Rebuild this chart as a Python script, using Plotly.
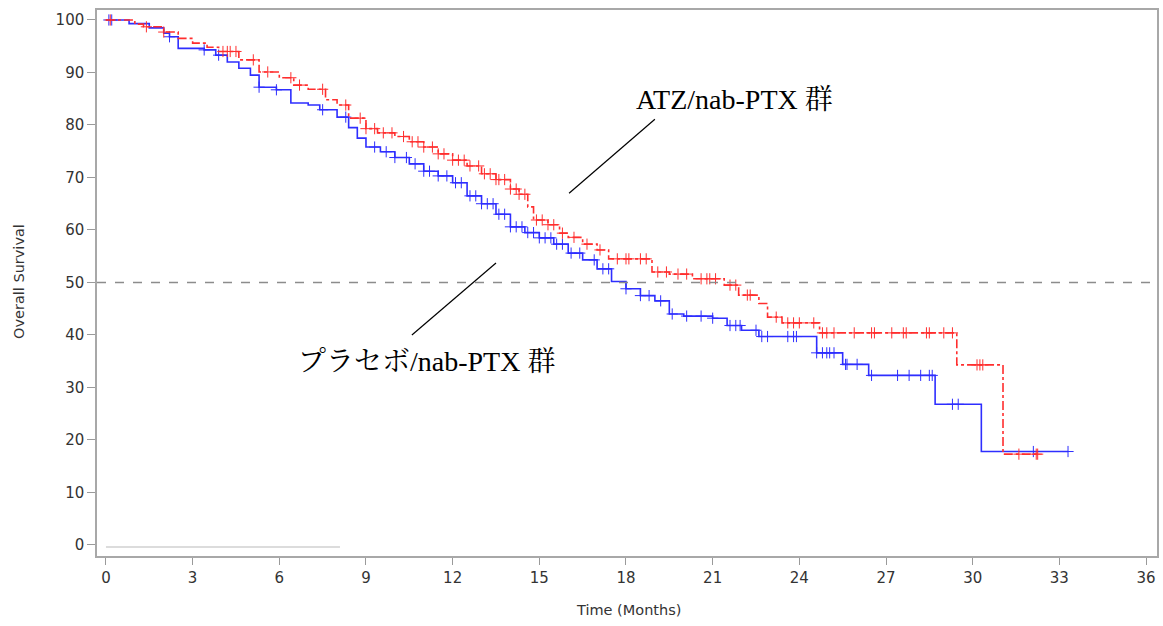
import numpy as np
import plotly.graph_objects as go

# ---- Data ----
pbo_time = [0, 0.8, 1.5, 2.0, 2.2, 2.5, 3.4, 3.8, 4.2, 4.6, 5.0, 5.3, 5.9, 6.4, 7.0, 7.4,
            8.0, 8.4, 8.7, 9.0, 9.5, 10.0, 10.5, 11.0, 11.5, 12.0, 12.5, 13.0, 13.5, 14.0,
            14.5, 15.0, 15.5, 16.0, 16.5, 17.0, 17.5, 18.0, 18.5, 19.0, 19.5, 20.0, 21.0,
            21.5, 22.0, 22.6, 24.6, 25.5, 26.4, 28.7, 30.3, 33.3]
pbo_surv = [100, 99.3, 98.5, 97.5, 96.8, 94.6, 94.3, 93.3, 92.0, 90.8, 89.5, 87.2, 86.7, 84.2,
            83.8, 82.9, 81.5, 79.5, 77.5, 75.8, 74.9, 73.8, 72.6, 71.2, 70.3, 69.0, 66.5, 65.0,
            63.0, 60.6, 59.5, 58.5, 57.3, 55.6, 54.3, 52.6, 50.2, 48.8, 47.5, 46.5, 44.0, 43.6,
            43.2, 41.8, 40.9, 39.7, 36.6, 34.4, 32.3, 26.8, 17.8, 17.8]
pbo_censor = [0.1, 0.2, 2.2, 3.4, 3.9, 5.3, 5.9, 7.5, 8.3, 9.3, 9.7, 10.0, 10.4, 10.7, 11.0,
              11.2, 11.5, 11.8, 12.1, 12.3, 12.6, 12.8, 13.0, 13.2, 13.4, 13.6, 13.8, 14.0,
              14.2, 14.4, 14.6, 14.8, 15.0, 15.2, 15.4, 15.6, 15.8, 16.1, 16.4, 16.9, 17.2,
              17.4, 18.0, 18.5, 18.8, 19.2, 19.6, 20.1, 20.6, 21.0, 21.6, 21.8, 21.95, 22.5,
              22.7, 22.9, 23.6, 23.8, 23.9, 24.6, 24.8, 24.95, 25.05, 25.2, 25.6, 25.65, 26.0,
              26.5, 27.4, 27.8, 28.2, 28.5, 28.6, 29.3, 29.5, 32.1, 33.3]

atz_time = [0, 1.0, 1.3, 2.0, 2.5, 3.0, 3.5, 3.9, 4.6, 5.3, 6.0, 6.5, 7.0, 7.6, 8.0, 8.4, 9.0,
            9.4, 10.0, 10.5, 11.0, 11.5, 12.0, 12.5, 13.0, 13.5, 14.0, 14.3, 14.6, 14.8, 15.3,
            15.7, 16.0, 16.5, 17.0, 17.4, 18.9, 19.5, 20.3, 21.4, 21.9, 22.6, 22.9, 23.4, 24.7,
            29.45, 31.05, 32.3]
atz_surv = [100, 99.2, 98.7, 97.7, 96.5, 95.6, 94.8, 94.0, 92.4, 90.1, 89.0, 87.6, 86.8, 84.8,
            83.8, 81.3, 79.3, 78.5, 77.8, 76.8, 75.8, 74.5, 73.3, 72.2, 70.7, 69.6, 67.8, 66.8,
            64.4, 61.9, 61.0, 59.4, 58.6, 57.3, 56.2, 54.5, 52.0, 51.6, 50.7, 49.5, 47.6, 46.0,
            43.4, 42.3, 40.4, 34.3, 17.3, 17.3]
atz_censor = [0.15, 1.4, 2.0, 4.05, 4.2, 4.3, 4.5, 5.1, 5.6, 6.4, 6.7, 7.5, 8.3, 8.8, 9.0, 9.3,
              9.6, 9.9, 10.3, 10.6, 10.8, 11.0, 11.3, 11.5, 11.7, 12.0, 12.2, 12.4, 12.6, 12.9,
              13.1, 13.3, 13.5, 13.6, 13.8, 14.0, 14.2, 14.3, 14.5, 14.9, 15.1, 15.3, 15.5,
              15.8, 16.2, 16.65, 17.1, 17.7, 18.0, 18.1, 18.5, 18.7, 19.1, 19.4, 19.8, 20.1,
              20.6, 20.8, 20.9, 21.1, 21.6, 21.8, 22.2, 22.3, 23.2, 23.6, 23.8, 24.0, 24.5,
              24.8, 24.95, 25.2, 25.9, 26.5, 26.6, 27.2, 27.6, 27.7, 28.4, 28.5, 29.0, 29.3,
              30.15, 30.25, 30.35, 31.6, 32.2, 32.25]

x_ticks = list(range(0, 37, 3))
y_ticks = list(range(0, 101, 10))
median_line = 50

BLUE = "#2e2eff"
RED = "#ff2e2e"

W, H = 1163, 626
L, R, T, B = 97, 6, 10, 70


def surv_at(times, surv, t):
    idx = np.searchsorted(np.array(times), np.array(t), side="right") - 1
    return np.array(surv)[idx]


fig = go.Figure()

fig.add_trace(go.Scatter(x=pbo_time, y=pbo_surv, mode="lines", line_shape="hv",
                         line=dict(color=BLUE, width=1.6), showlegend=False, hoverinfo="skip"))
fig.add_trace(go.Scatter(x=pbo_censor, y=surv_at(pbo_time, pbo_surv, pbo_censor), mode="markers",
                         marker=dict(symbol="cross-thin", size=8, line=dict(color=BLUE, width=1)),
                         showlegend=False))
fig.add_trace(go.Scatter(x=atz_time, y=atz_surv, mode="lines", line_shape="hv",
                         line=dict(color=RED, width=1.6, dash="dashdot"), showlegend=False,
                         hoverinfo="skip"))
fig.add_trace(go.Scatter(x=atz_censor, y=surv_at(atz_time, atz_surv, atz_censor), mode="markers",
                         marker=dict(symbol="cross-thin", size=8, line=dict(color=RED, width=1)),
                         showlegend=False))

# median reference line
fig.add_shape(type="line", xref="paper", x0=0, x1=1, y0=median_line, y1=median_line,
              line=dict(color="#8c8c8c", width=1.5, dash="dash"))
# faint artefact line near zero
fig.add_shape(type="line", x0=0, x1=8.1, y0=-0.4, y1=-0.4, line=dict(color="#d0d0d0", width=1.5))

# annotation leader lines
fig.add_shape(type="line", x0=16.03, y0=67.0, x1=19.0, y1=81.1, line=dict(color="black", width=1.2))
fig.add_shape(type="line", x0=10.59, y0=40.0, x1=13.5, y1=53.7, line=dict(color="black", width=1.2))

label_font = dict(family="Liberation Serif, Noto Serif CJK JP, Noto Sans CJK JP", size=28, color="black")
fig.add_annotation(x=21.77, y=84.8, text="ATZ/nab-PTX 群", showarrow=False, font=label_font)
fig.add_annotation(x=11.1, y=34.9, text="プラセボ/nab-PTX 群", showarrow=False, font=label_font)

# axis titles as paper annotations
title_font = dict(family="DejaVu Sans", size=14.5, color="#333333")
plot_w = W - L - R
plot_h = H - T - B
fig.add_annotation(xref="paper", yref="paper", x=(628 - L) / plot_w, y=-(610 - (H - B)) / plot_h,
                   text="Time (Months)", showarrow=False, font=title_font,
                   xanchor="center", yanchor="middle")
fig.add_annotation(xref="paper", yref="paper", x=-(L - 19) / plot_w, y=(H - B - 282) / plot_h,
                   text="Overall Survival", showarrow=False, font=title_font, textangle=-90,
                   xanchor="center", yanchor="middle")

axis_font = dict(family="DejaVu Sans", size=15, color="#333333")
fig.update_xaxes(range=[-0.31, 36.38], tickvals=x_ticks, ticks="outside", ticklen=7,
                 tickcolor="#9a9a9a", showgrid=False, zeroline=False, showline=True,
                 linecolor="#a8a8a8", linewidth=1.5, mirror=True, tickfont=axis_font,
                 automargin=False)
fig.update_yaxes(range=[-2.1, 101.9], tickvals=y_ticks, ticks="outside", ticklen=8,
                 tickcolor="#9a9a9a", showgrid=False, zeroline=False, showline=True,
                 linecolor="#a8a8a8", linewidth=1.5, mirror=True, tickfont=axis_font,
                 automargin=False)

fig.update_layout(width=W, height=H, margin=dict(l=L, r=R, t=T, b=B),
                  plot_bgcolor="white", paper_bgcolor="white")

fig.write_html("out.html", config={"displayModeBar": False},
               post_script="document.body.style.margin='0';document.body.style.padding='0';")
